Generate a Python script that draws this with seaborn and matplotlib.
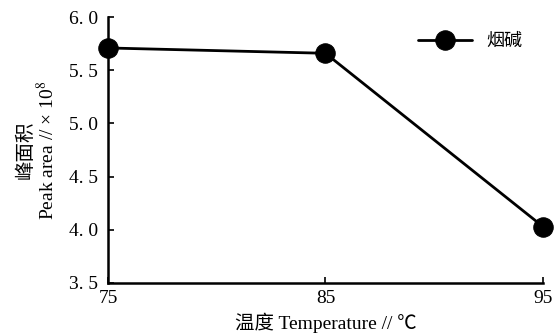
import matplotlib
matplotlib.use("Agg")
import matplotlib.pyplot as plt
import seaborn as sns
import pandas as pd

temps = [75, 85, 95]
peak_area = [5.71, 5.66, 4.03]
series_name = "烟碱"
x_ticks = [75, 85, 95]
y_ticks = [3.5, 4.0, 4.5, 5.0, 5.5, 6.0]
y_tick_labels = ["3. 5", "4. 0", "4. 5", "5. 0", "5. 5", "6. 0"]

sns.set_style("ticks")
plt.rcParams['font.family'] = ['Liberation Serif', 'Noto Sans CJK SC']
plt.rcParams['mathtext.fontset'] = 'stix'
plt.rcParams['xtick.direction'] = 'in'
plt.rcParams['ytick.direction'] = 'in'
plt.rcParams['text.color'] = 'black'
plt.rcParams['axes.labelcolor'] = 'black'
plt.rcParams['xtick.labelcolor'] = 'black'
plt.rcParams['ytick.labelcolor'] = 'black'

df = pd.DataFrame({"temp": temps, "area": peak_area, "series": series_name})

fig = plt.figure(figsize=(5.54, 3.36), dpi=100)
ax = fig.add_axes([0.195, 0.158, 0.785, 0.791])
sns.lineplot(data=df, x="temp", y="area", hue="series", palette=["black"],
             marker="o", markersize=14, linewidth=2.0, markeredgecolor="black",
             ax=ax, clip_on=False)

ax.set_xlim(75, 95)
ax.set_ylim(3.5, 6.0)
ax.set_xticks(x_ticks)
ax.set_xticklabels([str(t) for t in x_ticks], fontsize=14)
ax.set_yticks(y_ticks)
ax.set_yticklabels(y_tick_labels, fontsize=14)
ax.tick_params(axis='both', length=4, width=1.2, color='black')
ax.tick_params(axis='y', pad=7)
ax.tick_params(axis='x', pad=5)
for s in ['top', 'right']:
    ax.spines[s].set_visible(False)
for s in ['left', 'bottom']:
    ax.spines[s].set_linewidth(1.8)
    ax.spines[s].set_color('black')

ax.set_xlabel("温度 Temperature // ℃", fontsize=14, labelpad=4)
ax.set_ylabel("峰面积\nPeak area // × 10$^{8}$", fontsize=14, labelpad=8,
              linespacing=1.1)

leg = ax.legend(loc="upper right", frameon=False, fontsize=13,
                bbox_to_anchor=(0.99, 1.0), handlelength=3)
fig.savefig("out.png", dpi=100)
